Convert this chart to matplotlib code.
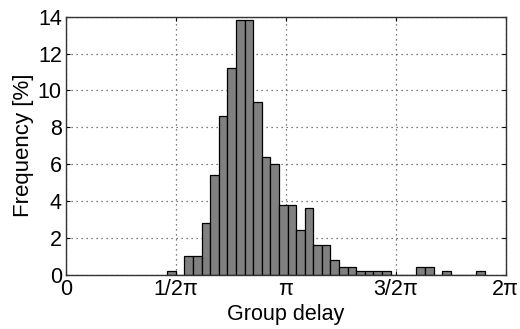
import numpy as np
import matplotlib
matplotlib.use("Agg")
import matplotlib.pyplot as plt

# Histogram data (bin heights in %), bins in units of pi
bin_start_pi = 0.4605
bin_width_pi = 0.03907
freq = [0.2, 0.0, 1.0, 1.0, 2.8, 5.4, 8.6, 11.2, 13.8, 13.8, 9.4, 6.4, 6.0,
        3.8, 3.8, 2.4, 3.6, 1.6, 1.6, 0.8, 0.4, 0.4, 0.2, 0.2, 0.2, 0.2,
        0.0, 0.0, 0.0, 0.4, 0.4, 0.0, 0.2, 0.0, 0.0, 0.0, 0.2]
xtick_vals = [0, 0.5 * np.pi, np.pi, 1.5 * np.pi, 2 * np.pi]
xtick_labels = ["0", "1/2π", "π", "3/2π", "2π"]
ytick_vals = [0, 2, 4, 6, 8, 10, 12, 14]

plt.rcParams['font.family'] = ['Liberation Sans', 'DejaVu Sans']

fig = plt.figure(figsize=(5.2, 3.29), dpi=100)
ax = fig.add_axes([0.127, 0.165, 0.8455, 0.784])

lefts = (bin_start_pi + bin_width_pi * np.arange(len(freq))) * np.pi
ax.bar(lefts, freq, width=bin_width_pi * np.pi, align='edge',
       color='#808080', edgecolor='black', linewidth=0.9, zorder=3)

ax.set_xlim(0, 2 * np.pi)
ax.set_ylim(0, 14)
ax.set_xticks(xtick_vals)
ax.set_xticklabels(xtick_labels)
ax.set_yticks(ytick_vals)
ax.grid(True, linestyle=(0, (1, 3)), color='#555555', linewidth=0.9, zorder=0)
ax.tick_params(direction='in', length=3, width=0.8, labelsize=15.5,
               top=True, right=True)
ax.tick_params(axis='x', pad=3)
ax.tick_params(axis='y', pad=3)
for s in ax.spines.values():
    s.set_color('#333333')
    s.set_linewidth(1.0)
    s.set_zorder(4)

ax.set_xlabel("Group delay", fontsize=15.5, labelpad=3)
ax.set_ylabel("Frequency [%]", fontsize=16, labelpad=3)

fig.savefig("out.png", dpi=100)
